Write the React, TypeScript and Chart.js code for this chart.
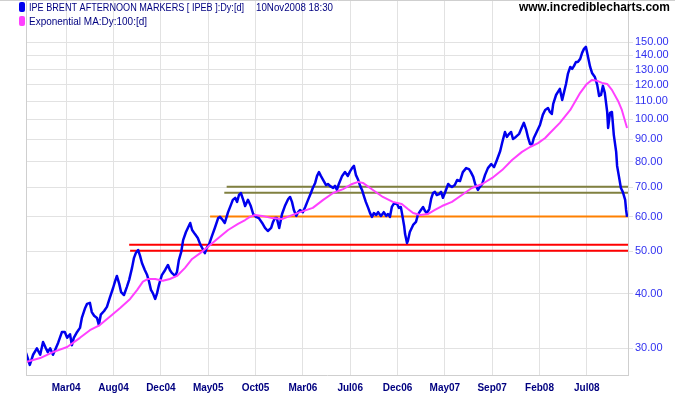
import React, { useEffect, useRef } from "react";
import { Chart, registerables } from "chart.js";

Chart.register(...registerables);

// x axis unit: trading days since start of the series
const tickDays = [85, 185, 285, 385, 485, 585, 685, 785, 885, 985, 1085, 1185];
const tickLabels = ["Mar04", "Aug04", "Dec04", "May05", "Oct05", "Mar06", "Jul06", "Dec06", "May07", "Sep07", "Feb08", "Jul08"];
const yTicks = [30, 40, 50, 60, 70, 80, 90, 100, 110, 120, 130, 140, 150];

const priceDays = [
  0, 4, 8, 15, 23, 30, 36, 42, 46, 51,
  57, 63, 68, 76, 82, 87, 93, 97, 101, 108,
  114, 118, 125, 129, 135, 139, 144, 150, 154, 158,
  165, 171, 177, 184, 188, 192, 197, 201, 207, 213,
  218, 224, 228, 232, 237, 241, 245, 251, 256, 260,
  264, 268, 273, 277, 281, 287, 294, 300, 304, 308,
  315, 319, 323, 328, 332, 338, 342, 347, 351, 357,
  363, 368, 372, 378, 382, 387, 393, 399, 406, 410,
  414, 420, 427, 433, 437, 442, 446, 450, 454, 459,
  463, 469, 475, 480, 486, 492, 499, 505, 511, 518,
  522, 526, 530, 535, 541, 547, 554, 558, 562, 566,
  571, 575, 579, 585, 590, 596, 602, 606, 611, 615,
  619, 623, 628, 634, 638, 642, 649, 653, 657, 661,
  668, 674, 680, 685, 689, 693, 697, 702, 706, 710,
  714, 718, 723, 727, 731, 735, 740, 744, 750, 756,
  761, 765, 769, 773, 778, 784, 788, 792, 794, 799,
  801, 805, 807, 811, 818, 824, 828, 833, 839, 843,
  847, 852, 856, 860, 864, 868, 873, 877, 881, 885,
  892, 896, 900, 906, 911, 917, 923, 930, 936, 940,
  945, 949, 955, 959, 964, 970, 976, 983, 989, 995,
  1002, 1006, 1012, 1016, 1021, 1025, 1029, 1035, 1042, 1048,
  1052, 1057, 1061, 1065, 1069, 1073, 1080, 1086, 1092, 1097,
  1103, 1107, 1111, 1114, 1120, 1124, 1128, 1133, 1137, 1141,
  1145, 1150, 1154, 1158, 1162, 1166, 1171, 1175, 1179, 1183,
  1187, 1192, 1196, 1202, 1207, 1211, 1215, 1219, 1223, 1228,
  1230, 1234, 1238, 1242, 1247, 1249, 1253, 1257, 1261, 1266,
  1268, 1270,
];

const priceValues = [
  29.3, 28.4, 27.5, 29.0, 30.0, 29.0, 31.0, 30.0, 29.4, 30.0,
  29.0, 30.0, 30.9, 32.7, 32.7, 31.7, 32.3, 30.5, 31.7, 32.7,
  33.4, 35.2, 37.1, 37.9, 38.1, 36.3, 35.6, 35.2, 33.9, 35.8,
  36.5, 37.3, 39.1, 41.2, 42.6, 43.9, 42.1, 40.3, 39.7, 41.4,
  43.0, 45.8, 48.2, 49.5, 50.3, 48.8, 47.0, 45.3, 44.1, 42.6,
  40.8, 40.1, 38.9, 40.1, 41.9, 44.1, 45.3, 46.5, 45.3, 44.6,
  43.9, 44.8, 47.7, 49.8, 53.0, 55.3, 56.5, 58.0, 55.9, 54.7,
  53.6, 51.9, 50.9, 49.5, 50.9, 51.9, 54.2, 56.5, 59.5, 59.9,
  59.2, 58.0, 61.4, 63.8, 65.5, 66.2, 64.8, 67.2, 67.9, 65.5,
  63.4, 65.5, 63.4, 60.8, 59.9, 59.5, 58.0, 56.5, 55.6, 56.5,
  58.3, 59.5, 59.5, 56.5, 60.8, 63.4, 65.8, 66.5, 64.8, 62.1,
  60.2, 61.4, 62.1, 61.4, 63.1, 65.5, 67.9, 69.7, 71.6, 74.3,
  75.8, 74.3, 72.7, 70.8, 71.2, 70.5, 69.7, 70.5, 69.0, 71.2,
  74.3, 75.8, 74.3, 76.2, 77.4, 78.3, 74.7, 72.7, 70.5, 69.0,
  66.8, 64.8, 62.8, 61.1, 59.9, 61.1, 60.5, 61.4, 60.2, 61.4,
  60.2, 60.8, 59.9, 63.1, 64.4, 64.1, 62.8, 63.1, 61.4, 57.1,
  54.7, 52.2, 52.8, 55.3, 57.4, 58.3, 60.5, 61.8, 63.1, 61.8,
  61.1, 62.4, 65.8, 67.9, 68.3, 67.2, 67.5, 68.3, 66.2, 67.9,
  71.2, 70.5, 70.1, 70.8, 72.7, 72.3, 75.8, 77.4, 77.0, 75.8,
  73.9, 71.2, 69.0, 70.1, 71.2, 74.7, 77.4, 79.1, 77.8, 80.8,
  84.7, 88.3, 93.6, 91.2, 92.7, 93.6, 90.2, 91.2, 92.7, 96.1,
  98.2, 94.6, 90.7, 87.9, 87.4, 90.7, 94.1, 97.1, 102.4, 105.1,
  106.2, 104.0, 102.9, 108.5, 113.7, 115.6, 117.4, 110.8, 115.6, 120.5,
  127.0, 131.8, 130.4, 132.5, 135.3, 135.3, 137.5, 141.9, 144.9, 146.5,
  139.7, 131.8, 127.7, 125.0, 119.9, 113.1, 113.7, 119.3, 115.0, 104.0,
  95.6, 103.5, 104.0, 92.2, 84.3, 78.3, 73.9, 69.7, 68.3, 65.5,
  62.1, 59.9,
];

const emaDays = [
  0, 30, 57, 87, 114, 135, 156, 177, 199, 220,
  235, 247, 258, 273, 289, 304, 319, 336, 351, 368,
  382, 404, 427, 448, 463, 473, 484, 499, 520, 541,
  558, 579, 606, 628, 649, 670, 689, 702, 712, 733,
  754, 775, 794, 807, 818, 833, 849, 864, 879, 900,
  921, 942, 964, 985, 1006, 1027, 1048, 1065, 1082, 1097,
  1107, 1128, 1150, 1171, 1185, 1196, 1207, 1217, 1228, 1238,
  1251, 1259, 1270,
];

const emaValues = [
  27.9, 28.5, 29.4, 30.2, 31.7, 33.0, 33.9, 35.4, 37.1, 38.9,
  40.8, 42.6, 43.2, 43.2, 42.8, 43.2, 43.9, 45.8, 48.0, 49.5,
  50.9, 53.3, 55.9, 57.7, 58.9, 59.9, 60.5, 60.2, 59.5, 59.2,
  60.2, 61.4, 62.8, 65.5, 67.9, 69.3, 71.2, 72.0, 71.6, 69.0,
  66.5, 64.8, 64.1, 62.4, 61.1, 60.5, 60.8, 62.1, 63.4, 64.8,
  67.2, 69.7, 71.2, 73.5, 76.6, 80.8, 84.3, 86.5, 88.3, 90.7,
  93.1, 98.2, 105.1, 115.0, 120.5, 123.1, 122.5, 121.2, 120.5, 116.8,
  110.2, 105.1, 95.6,
];

// support / resistance levels
const levelValues = [51.7, 50.1, 60.0, 70.2, 68.0];
const levelStartDays = [218, 220, 389, 424, 419];

const X_MIN = 0;
const X_MAX = 1272;
const Y_MIN = 26.07;
const Y_MAX = 187.4;

const FONT = '"Liberation Sans", Arial, sans-serif';

const overlayPlugin = {
  id: "overlay",
  afterDraw(chart: any) {
    const ctx = chart.ctx as CanvasRenderingContext2D;
    const a = chart.chartArea;
    ctx.save();
    // frame
    ctx.strokeStyle = "#cfcfcf";
    ctx.lineWidth = 1;
    ctx.beginPath();
    ctx.moveTo(0, 0.5);
    ctx.lineTo(chart.width, 0.5);
    ctx.moveTo(Math.round(a.left) + 0.5, a.top);
    ctx.lineTo(Math.round(a.left) + 0.5, Math.round(a.bottom) + 0.5);
    ctx.stroke();

    // legend markers
    const marker = (x: number, y: number, color: string) => {
      ctx.fillStyle = color;
      ctx.beginPath();
      (ctx as any).roundRect(x, y, 6, 10, 2);
      ctx.fill();
    };
    marker(19, 2, "#0000ee");
    marker(19, 16, "#ff40ff");

    ctx.fillStyle = "#000080";
    ctx.font = `10px ${FONT}`;
    ctx.textBaseline = "alphabetic";
    ctx.textAlign = "left";
    ctx.fillText("IPE BRENT AFTERNOON MARKERS [ IPEB ]:Dy:[d]", 29, 11, 215);
    ctx.fillText("10Nov2008 18:30", 256, 11, 77);
    ctx.fillText("Exponential MA:Dy:100:[d]", 29, 25, 118);

    ctx.fillStyle = "#000000";
    ctx.font = `bold 12px ${FONT}`;
    ctx.fillText("www.incrediblecharts.com", 519, 11, 151);
    ctx.restore();
  },
};

export default function App() {
  const ref = useRef<HTMLCanvasElement>(null);

  useEffect(() => {
    const canvas = ref.current;
    if (!canvas) return;
    const levelColors = ["#ff0000", "#ff0000", "#ff8000", "#808040", "#808040"];
    const levelDatasets = levelValues.map((v, i) => ({
      label: "level" + i,
      data: [
        { x: levelStartDays[i], y: v },
        { x: X_MAX, y: v },
      ],
      borderColor: levelColors[i],
      borderWidth: 2,
      pointRadius: 0,
      fill: false,
    }));

    const chart = new Chart(canvas, {
      type: "line",
      data: {
        datasets: [
          {
            label: "Exponential MA:Dy:100:[d]",
            data: emaDays.map((d, i) => ({ x: d, y: emaValues[i] })),
            borderColor: "#ff40ff",
            borderWidth: 2,
            pointRadius: 0,
            borderJoinStyle: "round",
            fill: false,
          },
          {
            label: "IPE BRENT AFTERNOON MARKERS",
            data: priceDays.map((d, i) => ({ x: d, y: priceValues[i] })),
            borderColor: "#0000ee",
            borderWidth: 2.5,
            pointRadius: 0,
            borderJoinStyle: "round",
            fill: false,
          },
          ...levelDatasets,
        ],
      } as any,
      options: {
        animation: false,
        responsive: false,
        devicePixelRatio: 1,
        events: [],
        layout: { padding: { left: 26, right: 0, top: 0, bottom: 0 } },
        plugins: {
          legend: { display: false },
          tooltip: { enabled: false },
        },
        scales: {
          x: {
            type: "linear",
            min: X_MIN,
            max: X_MAX,
            afterBuildTicks: (scale: any) => {
              scale.ticks = tickDays.map((v) => ({ value: v }));
            },
            afterFit: (scale: any) => {
              scale.height = 20;
              scale.paddingLeft = 0;
              scale.paddingRight = 0;
            },
            grid: { color: "#e2e2e2", drawTicks: false, lineWidth: 1 },
            border: { display: true, color: "#cfcfcf" },
            ticks: {
              autoSkip: false,
              maxRotation: 0,
              padding: 7,
              color: "#000080",
              font: { family: FONT, size: 10, weight: "bold" },
              callback: (v: any) => {
                const i = tickDays.indexOf(Number(v));
                return i >= 0 ? tickLabels[i] : "";
              },
            },
          },
          y: {
            type: "logarithmic",
            position: "right",
            min: Y_MIN,
            max: Y_MAX,
            afterBuildTicks: (scale: any) => {
              scale.ticks = yTicks.map((v) => ({ value: v }));
            },
            afterFit: (scale: any) => {
              scale.width = 47;
              scale.paddingTop = 0;
              scale.paddingBottom = 0;
            },
            grid: { color: "#e2e2e2", drawTicks: true, tickLength: 5, lineWidth: 1 },
            border: { display: true, color: "#cfcfcf" },
            ticks: {
              padding: 2,
              color: "#3030f0",
              font: { family: FONT, size: 11 },
              callback: (v: any) => Number(v).toFixed(2),
            },
          },
        },
      } as any,
      plugins: [overlayPlugin],
    });
    return () => chart.destroy();
  }, []);

  return (
    <div style={{ position: "absolute", left: 0, top: 0, width: 675, height: 395, background: "#ffffff" }}>
      <canvas ref={ref} width={675} height={395} style={{ display: "block" }} />
    </div>
  );
}
